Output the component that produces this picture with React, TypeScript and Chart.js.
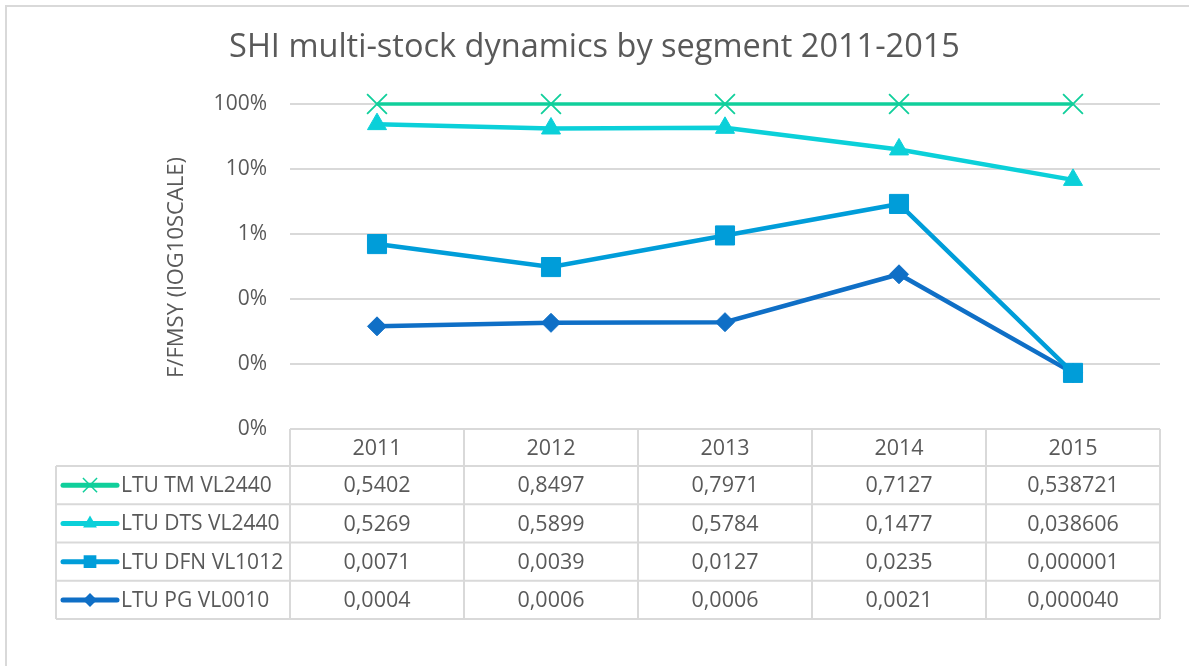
import React, { useEffect, useRef } from 'react';
import { Chart, registerables } from 'chart.js';

Chart.register(...registerables);

const years = ['2011', '2012', '2013', '2014', '2015'];
const seriesNames = ['LTU TM VL2440', 'LTU DTS VL2440', 'LTU DFN VL1012', 'LTU PG VL0010'];
const tmPlot = [1, 1, 1, 1, 1];
const dtsPlot = [0.49, 0.42, 0.43, 0.2, 0.068];
const dfnPlot = [0.007, 0.0031, 0.0095, 0.029, 0.000073];
const pgPlot = [0.00038, 0.00043, 0.00044, 0.0024, 0.000073];
const tmTable = ['0,5402', '0,8497', '0,7971', '0,7127', '0,538721'];
const dtsTable = ['0,5269', '0,5899', '0,5784', '0,1477', '0,038606'];
const dfnTable = ['0,0071', '0,0039', '0,0127', '0,0235', '0,000001'];
const pgTable = ['0,0004', '0,0006', '0,0006', '0,0021', '0,000040'];
const yTicks = [0.00001, 0.0001, 0.001, 0.01, 0.1, 1];
const titleText = 'SHI multi-stock dynamics by segment 2011-2015';
const yTitleText = 'F/FMSY (lOG10SCALE)';

const colors = ['#10CF9B', '#0BD0D9', '#009DD9', '#0F6FC6'];
const styles = ['crossRot', 'triangle', 'rect', 'rectRot'];
const FONT = '"Open Sans", "Liberation Sans", sans-serif';
const TEXT = '#595959';
const GRID = '#d9d9d9';

function drawMarker(ctx: CanvasRenderingContext2D, style: string, x: number, y: number, r: number, color: string) {
  ctx.save();
  ctx.fillStyle = color;
  ctx.strokeStyle = color;
  ctx.lineWidth = 1.5;
  ctx.beginPath();
  if (style === 'crossRot') {
    const o = r * Math.SQRT1_2;
    ctx.moveTo(x - o, y - o);
    ctx.lineTo(x + o, y + o);
    ctx.moveTo(x + o, y - o);
    ctx.lineTo(x - o, y + o);
    ctx.stroke();
  } else if (style === 'triangle') {
    let a = 0;
    ctx.moveTo(x + Math.sin(a) * r, y - Math.cos(a) * r);
    a += (2 * Math.PI) / 3;
    ctx.lineTo(x + Math.sin(a) * r, y - Math.cos(a) * r);
    a += (2 * Math.PI) / 3;
    ctx.lineTo(x + Math.sin(a) * r, y - Math.cos(a) * r);
    ctx.closePath();
    ctx.fill();
  } else if (style === 'rect') {
    const s = r * Math.SQRT1_2;
    ctx.rect(x - s, y - s, 2 * s, 2 * s);
    ctx.fill();
  } else {
    ctx.moveTo(x - r, y);
    ctx.lineTo(x, y - r);
    ctx.lineTo(x + r, y);
    ctx.lineTo(x, y + r);
    ctx.closePath();
    ctx.fill();
  }
  ctx.restore();
}

const decorPlugin = {
  id: 'decor',
  afterDraw(chart: any) {
    const ctx: CanvasRenderingContext2D = chart.ctx;
    const ca = chart.chartArea;
    const xs = chart.scales.x;
    ctx.save();
    // outer border
    ctx.strokeStyle = GRID;
    ctx.lineWidth = 2;
    ctx.strokeRect(6, 6, 2000, 2000);

    // title
    ctx.fillStyle = TEXT;
    ctx.font = `32.5px ${FONT}`;
    ctx.textAlign = 'center';
    ctx.textBaseline = 'middle';
    ctx.fillText(titleText, chart.width / 2, 48);

    // y title
    ctx.save();
    ctx.translate(177, (ca.top + ca.bottom) / 2 + 1);
    ctx.rotate(-Math.PI / 2);
    ctx.font = `22px ${FONT}`;
    ctx.fillText(yTitleText, 0, 0);
    ctx.restore();

    // data table
    const n = years.length;
    const band = (ca.right - ca.left) / n;
    const headTop = ca.bottom;
    const headBottom = headTop + 37;
    const rowH = 38.25;
    const legendLeft = 56;
    const bottom = headBottom + rowH * seriesNames.length;
    ctx.strokeStyle = GRID;
    ctx.lineWidth = 2;
    ctx.beginPath();
    ctx.moveTo(ca.left, headTop);
    ctx.lineTo(ca.right, headTop);
    for (let k = 0; k <= seriesNames.length; k++) {
      const y = headBottom + k * rowH;
      ctx.moveTo(legendLeft, y);
      ctx.lineTo(ca.right, y);
    }
    ctx.moveTo(legendLeft, headBottom);
    ctx.lineTo(legendLeft, bottom);
    for (let i = 0; i <= n; i++) {
      const x = ca.left + i * band;
      ctx.moveTo(x, headTop);
      ctx.lineTo(x, bottom);
    }
    ctx.stroke();

    ctx.fillStyle = TEXT;
    ctx.font = `21.5px ${FONT}`;
    ctx.textAlign = 'center';
    ctx.textBaseline = 'middle';
    years.forEach((yr, i) => {
      ctx.fillText(yr, xs.getPixelForValue(i), (headTop + headBottom) / 2 + 1);
    });
    const tables = [tmTable, dtsTable, dfnTable, pgTable];
    const legendR = [10, 8, 9, 7];
    tables.forEach((row, k) => {
      const cy = headBottom + k * rowH + rowH / 2 + 1;
      ctx.font = `21.5px ${FONT}`;
      row.forEach((txt, i) => {
        ctx.fillText(txt, xs.getPixelForValue(i), cy);
      });
      // legend sample
      ctx.save();
      ctx.strokeStyle = colors[k];
      ctx.lineWidth = 5;
      ctx.lineCap = 'round';
      ctx.beginPath();
      ctx.moveTo(63, cy - 1);
      ctx.lineTo(117, cy - 1);
      ctx.stroke();
      ctx.restore();
      drawMarker(ctx, styles[k], 90, cy - 1, legendR[k], colors[k]);
      ctx.textAlign = 'left';
      ctx.font = `21px ${FONT}`;
      ctx.fillText(seriesNames[k], 121, cy);
      ctx.textAlign = 'center';
    });
    ctx.restore();
  },
};

export default function App() {
  const ref = useRef<HTMLCanvasElement | null>(null);
  useEffect(() => {
    if (!ref.current) return;
    const plotData = [tmPlot, dtsPlot, dfnPlot, pgPlot];
    const widths = [3.5, 4.5, 4.5, 4.5];
    const radii = [14, 11, 13.5, 9.5];
    const chart = new Chart(ref.current, {
      type: 'line',
      data: {
        labels: years,
        datasets: plotData.map((d, k) => ({
          label: seriesNames[k],
          data: d,
          borderColor: colors[k],
          backgroundColor: colors[k],
          borderWidth: widths[k],
          pointStyle: styles[k] as any,
          pointRadius: radii[k],
          pointBorderWidth: k === 0 ? 1.8 : 1,
          pointBorderColor: colors[k],
          pointBackgroundColor: colors[k],
          tension: 0,
          clip: false as any,
        })),
      },
      options: {
        responsive: false,
        animation: false,
        layout: { padding: { left: 0, right: 29, top: 104, bottom: 237 } },
        plugins: {
          legend: { display: false },
          title: { display: false },
          tooltip: { enabled: false },
        },
        scales: {
          x: {
            type: 'category',
            display: false,
            offset: true,
          },
          y: {
            type: 'logarithmic',
            min: 0.00001,
            max: 1,
            afterBuildTicks: (scale: any) => {
              scale.ticks = yTicks.map((v) => ({ value: v }));
            },
            afterFit: (scale: any) => {
              scale.width = 290;
            },
            border: { display: false },
            grid: { color: GRID, lineWidth: 2, drawTicks: false },
            ticks: {
              padding: 23,
              color: TEXT,
              font: { family: FONT, size: 21 },
              callback: (v: any) => Math.round(Number(v) * 100) + '%',
            },
          },
        },
      },
      plugins: [decorPlugin],
    });
    return () => chart.destroy();
  }, []);
  return (
    <div style={{ position: 'fixed', left: 0, top: 0, width: 1189, height: 666, background: '#fff' }}>
      <canvas ref={ref} width={1189} height={666} />
    </div>
  );
}
